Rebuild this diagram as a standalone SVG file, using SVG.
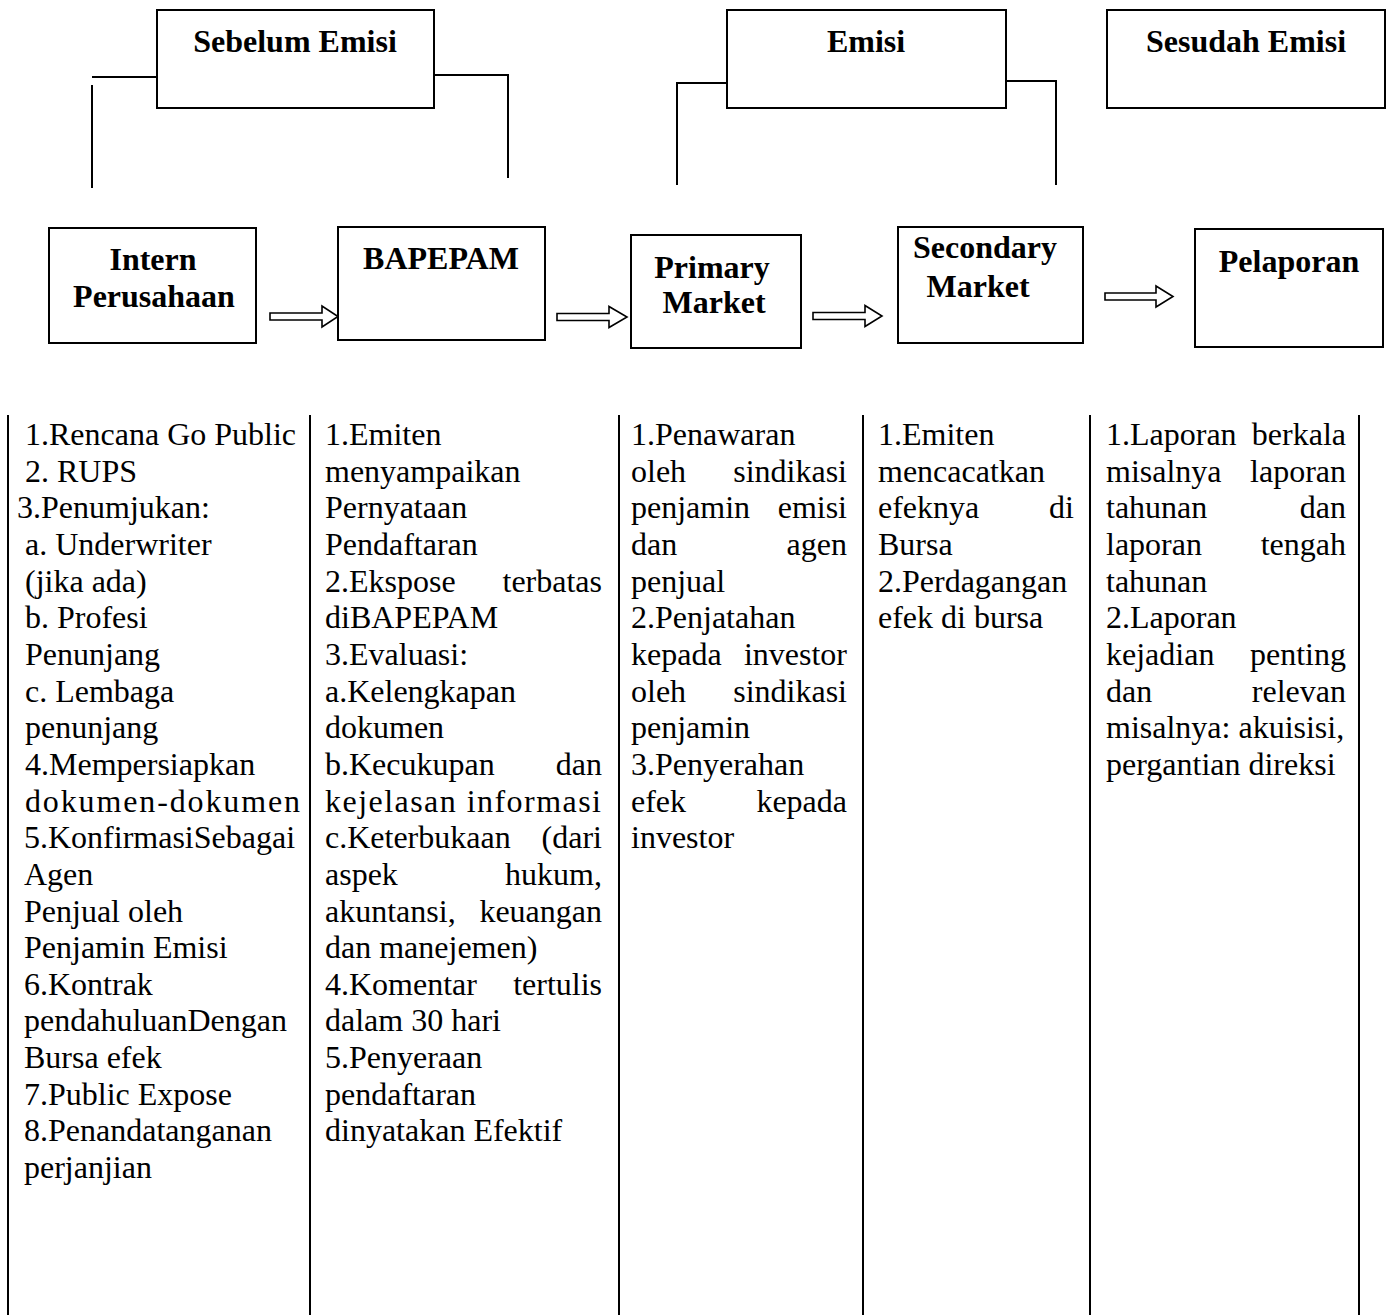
<svg xmlns="http://www.w3.org/2000/svg" width="1390" height="1315" viewBox="0 0 1390 1315">
<style>
.box{fill:#fff;stroke:#000;stroke-width:2}
.ln{fill:none;stroke:#000;stroke-width:2}
.arr{fill:#fff;stroke:#000;stroke-width:1.6;stroke-linejoin:miter}
.h{font-family:"Liberation Serif","Times New Roman",serif;font-size:32px;font-weight:bold;text-anchor:middle;fill:#000}
.t{font-family:"Liberation Serif","Times New Roman",serif;font-size:32px;fill:#000}
.e{text-anchor:end}
</style>
<rect x="0" y="0" width="1390" height="1315" fill="#fff"/>

<g id="connectors">
  <path class="ln" d="M92,77 H157 M92,85 V188 M434,75 H508 V178"/>
  <path class="ln" d="M727,83 H677 V185 M1006,81 H1056 V185"/>
  <path class="arr" d="M270,313 H322 V306 L338,316.5 L322,327 V320 H270 Z"/>
  <path class="arr" d="M557,313.5 H609 V306.5 L627,317 L609,327.5 V320.5 H557 Z"/>
  <path class="arr" d="M813,312.5 H865 V305.5 L882,316 L865,326.5 V319.5 H813 Z"/>
  <path class="arr" d="M1105,293 H1156 V286 L1173,296.5 L1156,307 V300 H1105 Z"/>
</g>

<g id="sebelum-emisi">
  <rect class="box" x="157" y="10" width="277" height="98"/>
  <text class="h" x="295" y="52">Sebelum Emisi</text>
</g>
<g id="emisi">
  <rect class="box" x="727" y="10" width="279" height="98"/>
  <text class="h" x="866" y="52">Emisi</text>
</g>
<g id="sesudah-emisi">
  <rect class="box" x="1107" y="10" width="278" height="98"/>
  <text class="h" x="1246" y="52">Sesudah Emisi</text>
</g>

<g id="intern-perusahaan">
  <rect class="box" x="49" y="228" width="207" height="115"/>
  <text class="h" x="153" y="270">Intern</text>
  <text class="h" x="154" y="307">Perusahaan</text>
</g>
<g id="bapepam">
  <rect class="box" x="338" y="227" width="207" height="113"/>
  <text class="h" x="441" y="269">BAPEPAM</text>
</g>
<g id="primary-market">
  <rect class="box" x="631" y="235" width="170" height="113"/>
  <text class="h" x="712" y="278">Primary</text>
  <text class="h" x="714" y="313">Market</text>
</g>
<g id="secondary-market">
  <rect class="box" x="898" y="227" width="185" height="116"/>
  <text class="h" x="985" y="258">Secondary</text>
  <text class="h" x="978" y="297">Market</text>
</g>
<g id="pelaporan">
  <rect class="box" x="1195" y="229" width="188" height="118"/>
  <text class="h" x="1289" y="272">Pelaporan</text>
</g>

<g id="table">
  <path class="ln" d="M8,415 V1315 M310,415 V1315 M619,415 V1315 M863,415 V1315 M1090,415 V1315 M1359,415 V1315"/>

  <g id="col-1">
    <text class="t" x="25" y="445">1.Rencana Go Public</text>
    <text class="t" x="25" y="481.7">2. RUPS</text>
    <text class="t" x="17" y="518.3">3.Penumjukan:</text>
    <text class="t" x="25" y="555">a. Underwriter</text>
    <text class="t" x="25" y="591.6">(jika ada)</text>
    <text class="t" x="25" y="628.3">b. Profesi</text>
    <text class="t" x="25" y="664.9">Penunjang</text>
    <text class="t" x="25" y="701.6">c. Lembaga</text>
    <text class="t" x="25" y="738.2">penunjang</text>
    <text class="t" x="25" y="774.9">4.Mempersiapkan</text>
    <text class="t" x="25" y="811.5" textLength="275" lengthAdjust="spacing">dokumen-dokumen</text>
    <text class="t" x="24" y="848.2">5.KonfirmasiSebagai</text>
    <text class="t" x="24" y="884.8">Agen</text>
    <text class="t" x="24" y="921.5">Penjual oleh</text>
    <text class="t" x="24" y="958.1">Penjamin Emisi</text>
    <text class="t" x="24" y="994.8">6.Kontrak</text>
    <text class="t" x="24" y="1031.4">pendahuluanDengan</text>
    <text class="t" x="24" y="1068.1">Bursa efek</text>
    <text class="t" x="24" y="1104.7">7.Public Expose</text>
    <text class="t" x="24" y="1141.4">8.Penandatanganan</text>
    <text class="t" x="24" y="1178">perjanjian</text>
  </g>

  <g id="col-2">
    <text class="t" x="325" y="445">1.Emiten</text>
    <text class="t" x="325" y="481.7">menyampaikan</text>
    <text class="t" x="325" y="518.3">Pernyataan</text>
    <text class="t" x="325" y="555">Pendaftaran</text>
    <text class="t" y="591.6"><tspan x="325">2.Ekspose</tspan><tspan class="e" x="602">terbatas</tspan></text>
    <text class="t" x="325" y="628.3">diBAPEPAM</text>
    <text class="t" x="325" y="664.9">3.Evaluasi:</text>
    <text class="t" x="325" y="701.6">a.Kelengkapan</text>
    <text class="t" x="325" y="738.2">dokumen</text>
    <text class="t" y="774.9"><tspan x="325">b.Kecukupan</tspan><tspan class="e" x="602">dan</tspan></text>
    <text class="t" x="325" y="811.5" textLength="276" lengthAdjust="spacing">kejelasan informasi</text>
    <text class="t" y="848.2"><tspan x="325">c.Keterbukaan</tspan><tspan class="e" x="602">(dari</tspan></text>
    <text class="t" y="884.8"><tspan x="325">aspek</tspan><tspan class="e" x="602">hukum,</tspan></text>
    <text class="t" y="921.5"><tspan x="325">akuntansi,</tspan><tspan class="e" x="602">keuangan</tspan></text>
    <text class="t" x="325" y="958.1">dan manejemen)</text>
    <text class="t" y="994.8"><tspan x="325">4.Komentar</tspan><tspan class="e" x="602">tertulis</tspan></text>
    <text class="t" x="325" y="1031.4">dalam 30 hari</text>
    <text class="t" x="325" y="1068.1">5.Penyeraan</text>
    <text class="t" x="325" y="1104.7">pendaftaran</text>
    <text class="t" x="325" y="1141.4">dinyatakan Efektif</text>
  </g>

  <g id="col-3">
    <text class="t" x="631" y="445">1.Penawaran</text>
    <text class="t" y="481.7"><tspan x="631">oleh</tspan><tspan class="e" x="847">sindikasi</tspan></text>
    <text class="t" y="518.3"><tspan x="631">penjamin</tspan><tspan class="e" x="847">emisi</tspan></text>
    <text class="t" y="555"><tspan x="631">dan</tspan><tspan class="e" x="847">agen</tspan></text>
    <text class="t" x="631" y="591.6">penjual</text>
    <text class="t" x="631" y="628.3">2.Penjatahan</text>
    <text class="t" y="664.9"><tspan x="631">kepada</tspan><tspan class="e" x="847">investor</tspan></text>
    <text class="t" y="701.6"><tspan x="631">oleh</tspan><tspan class="e" x="847">sindikasi</tspan></text>
    <text class="t" x="631" y="738.2">penjamin</text>
    <text class="t" x="631" y="774.9">3.Penyerahan</text>
    <text class="t" y="811.5"><tspan x="631">efek</tspan><tspan class="e" x="847">kepada</tspan></text>
    <text class="t" x="631" y="848.2">investor</text>
  </g>

  <g id="col-4">
    <text class="t" x="878" y="445">1.Emiten</text>
    <text class="t" x="878" y="481.7">mencacatkan</text>
    <text class="t" y="518.3"><tspan x="878">efeknya</tspan><tspan class="e" x="1074">di</tspan></text>
    <text class="t" x="878" y="555">Bursa</text>
    <text class="t" x="878" y="591.6">2.Perdagangan</text>
    <text class="t" x="878" y="628.3">efek di bursa</text>
  </g>

  <g id="col-5">
    <text class="t" y="445"><tspan x="1106">1.Laporan</tspan><tspan class="e" x="1346">berkala</tspan></text>
    <text class="t" y="481.7"><tspan x="1106">misalnya</tspan><tspan class="e" x="1346">laporan</tspan></text>
    <text class="t" y="518.3"><tspan x="1106">tahunan</tspan><tspan class="e" x="1346">dan</tspan></text>
    <text class="t" y="555"><tspan x="1106">laporan</tspan><tspan class="e" x="1346">tengah</tspan></text>
    <text class="t" x="1106" y="591.6">tahunan</text>
    <text class="t" x="1106" y="628.3">2.Laporan</text>
    <text class="t" y="664.9"><tspan x="1106">kejadian</tspan><tspan class="e" x="1346">penting</tspan></text>
    <text class="t" y="701.6"><tspan x="1106">dan</tspan><tspan class="e" x="1346">relevan</tspan></text>
    <text class="t" x="1106" y="738.2">misalnya: akuisisi,</text>
    <text class="t" x="1106" y="774.9">pergantian direksi</text>
  </g>
</g>
</svg>
